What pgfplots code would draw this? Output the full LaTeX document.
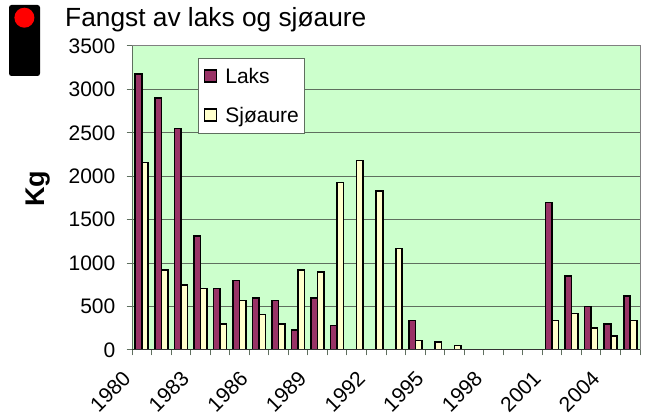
\documentclass[border=0pt]{standalone}
\usepackage{fontspec}
\setmainfont{Liberation Sans}
\usepackage{pgfplots}
\pgfplotsset{compat=1.18}
\definecolor{laks}{HTML}{993366}
\definecolor{sjo}{HTML}{FFFFCC}
\definecolor{bg}{HTML}{CCFFCC}
\definecolor{gridc}{HTML}{5F6F5F}
\begin{document}
\begin{tikzpicture}[x=1pt,y=1pt]
\useasboundingbox (0,0) rectangle (650,414);
\fill[black,rounded corners=2.5pt] (9,338) rectangle (40,409);
\fill[red] (24.4,396.3) circle (10);
\node[anchor=base west,inner sep=0pt,font=\fontsize{26.3}{26.3}\selectfont] at (65,387) {Fangst av laks og sjøaure};
\node[rotate=90,anchor=center,inner sep=0pt,font=\fontsize{27}{27}\selectfont\bfseries] at (38,225) {Kg};
\begin{axis}[
  at={(132pt,64pt)},anchor=south west,
  scale only axis,width=508pt,height=304pt,
  xmin=-0.5,xmax=25.5,ymin=0,ymax=3500,
  axis background/.style={fill=bg},
  ybar=0pt,bar width=6.5pt,
  xtick={0,3,6,9,12,15,18,21,24},
  xticklabels={1980,1983,1986,1989,1992,1995,1998,2001,2004},
  minor xtick={-0.5,0.5,1.5,2.5,3.5,4.5,5.5,6.5,7.5,8.5,9.5,10.5,11.5,12.5,13.5,14.5,15.5,16.5,17.5,18.5,19.5,20.5,21.5,22.5,23.5,24.5,25.5},
  ytick={0,500,1000,1500,2000,2500,3000,3500},
  yticklabel style={/pgf/number format/assume math mode=true,/pgf/number format/1000 sep={},font=\fontsize{21}{21}\selectfont,inner sep=0pt,xshift=-11pt},
  xticklabel style={rotate=45,anchor=north east,inner sep=0pt,font=\fontsize{21}{21}\selectfont,xshift=-24.2pt,yshift=4.5pt},
  tick align=outside,tick pos=left,
  major tick length=5.5pt,minor tick length=5.5pt,
  xtick style={draw=none},
  minor x tick style={draw=gridc,line width=1pt},
  y tick style={draw=gridc,line width=1pt},
  ymajorgrids,
  grid style={draw=gridc,line width=1pt},
  axis line style={draw=gray,line width=1pt},
  every axis plot/.append style={draw=black,line width=1.6pt},
  legend style={at={(rel axis cs:0.1299,0.9605)},anchor=north west,draw=gridc,line width=0.7pt,fill=white,
    font=\fontsize{21}{21}\selectfont,inner xsep=3pt,inner ysep=8pt,row sep=18pt},
  legend cell align=left,
  legend image code/.code={\draw[#1,line width=1.5pt] (3pt,-5.5pt) rectangle (15pt,6.5pt);\path[draw=none,fill=none] (0pt,0pt) -- (22pt,0pt);},
]
\addplot[fill=laks] coordinates {(0,3180)(1,2900)(2,2550)(3,1310)(4,710)(5,800)(6,600)(7,570)(8,230)(9,600)(10,280)(14,340)(21,1700)(22,850)(23,500)(24,300)(25,620)};
\addplot[fill=sjo] coordinates {(0,2160)(1,920)(2,750)(3,710)(4,300)(5,570)(6,410)(7,300)(8,920)(9,900)(10,1930)(11,2180)(12,1830)(13,1170)(14,110)(15,90)(16,50)(21,340)(22,420)(23,250)(24,160)(25,340)};
\legend{Laks,Sjøaure}
\draw[draw=gridc,line width=1pt] (rel axis cs:0,0) -- (rel axis cs:0,1);
\draw[draw=black!80,line width=1.2pt] (rel axis cs:0,0) -- (rel axis cs:1,0);
\end{axis}
\end{tikzpicture}
\end{document}
